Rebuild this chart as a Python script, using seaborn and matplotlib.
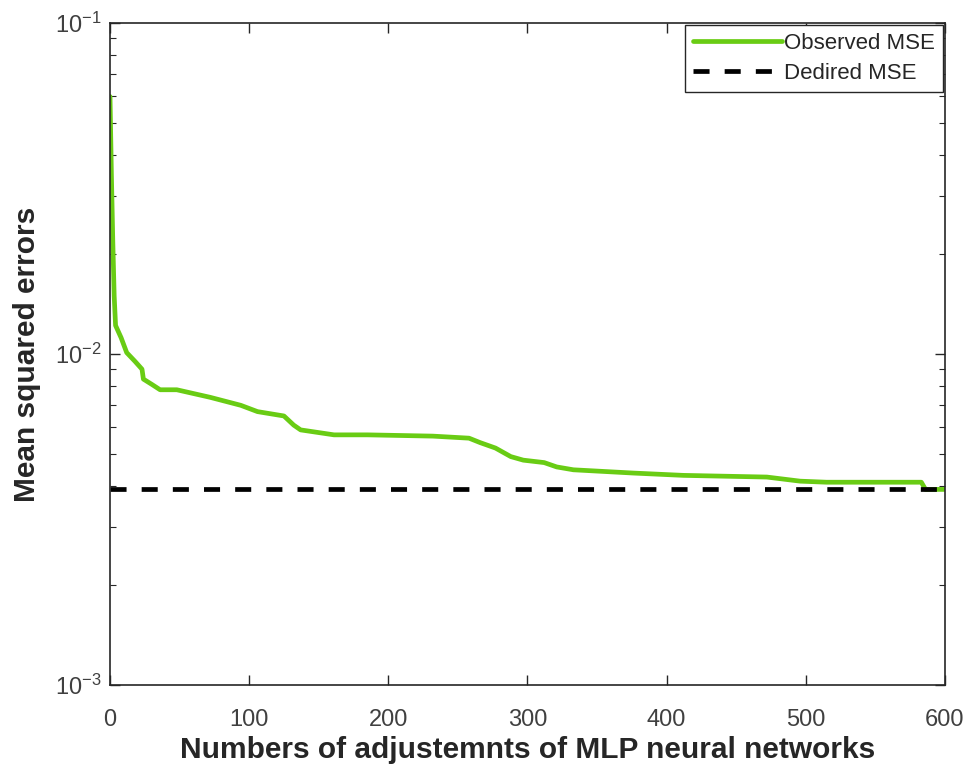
import matplotlib
matplotlib.use("Agg")
import matplotlib.pyplot as plt
import matplotlib.ticker as mticker
import seaborn as sns
import pandas as pd
import numpy as np

# Data
adjustments = [0, 1, 2, 3, 4, 8, 12, 18, 23, 24, 30, 36, 48, 72, 94, 106, 125,
               132, 137, 161, 185, 232, 258, 266, 277, 288, 297, 312, 321, 333,
               376, 412, 472, 496, 515, 583, 586, 600]
observed_mse = [0.060, 0.035, 0.022, 0.015, 0.0122, 0.0112, 0.0101, 0.0095, 0.0090,
                0.0084, 0.0081, 0.0078, 0.0078, 0.0074, 0.0070, 0.0067, 0.0065,
                0.0061, 0.0059, 0.0057, 0.0057, 0.00565, 0.00557, 0.0054, 0.0052,
                0.0049, 0.00478, 0.00470, 0.00456, 0.00447, 0.00437, 0.00430,
                0.00425, 0.00413, 0.00410, 0.00410, 0.0039, 0.0039]
desired_x = [0, 600]
desired_mse = [0.0039, 0.0039]
x_ticks = [0, 100, 200, 300, 400, 500, 600]

sns.set_style("white")
plt.rcParams['font.family'] = ['Liberation Sans', 'DejaVu Sans']

fig = plt.figure(figsize=(9.7, 7.68), dpi=100)
ax = fig.add_axes([0.1134, 0.108, 0.8608, 0.862])

obs = pd.DataFrame({"x": adjustments, "y": observed_mse})
des = pd.DataFrame({"x": desired_x, "y": desired_mse})
sns.lineplot(data=obs, x="x", y="y", ax=ax, color="#69CC14", linewidth=3.4,
             label="Observed MSE", estimator=None, sort=False)
sns.lineplot(data=des, x="x", y="y", ax=ax, color="black", linewidth=3.4,
             linestyle=(0, (3.4, 3.2)), label="Dedired MSE", estimator=None)

ax.set_yscale("log")
ax.set_xlim(0, 600)
ax.set_ylim(1e-3, 1e-1)
ax.set_xticks(x_ticks)
ax.yaxis.set_major_locator(mticker.LogLocator(base=10, numticks=5))
ax.yaxis.set_minor_locator(mticker.LogLocator(base=10, subs=np.arange(2, 10), numticks=20))
ax.yaxis.set_minor_formatter(mticker.NullFormatter())

ax.tick_params(axis="both", which="both", direction="in", top=True, right=True,
               left=True, bottom=True, colors="#262626", labelcolor="#404040")
ax.tick_params(axis="both", which="major", length=7, width=1, labelsize=17)
ax.tick_params(axis="y", which="minor", length=4, width=0.8)
ax.tick_params(axis="x", which="major", pad=17)
ax.tick_params(axis="y", which="major", pad=6)

for s in ax.spines.values():
    s.set_visible(True)
    s.set_color("#262626")
    s.set_linewidth(1.2)

ax.set_xlabel("Numbers of adjustemnts of MLP neural networks", fontsize=21.5,
              fontweight="bold", color="#262626", labelpad=4)
ax.set_ylabel("Mean squared errors", fontsize=21.5, fontweight="bold",
              color="#262626", labelpad=10)

leg = ax.legend(loc="upper right", fontsize=16, frameon=True, fancybox=False,
                edgecolor="#262626", framealpha=1, borderaxespad=0.1,
                handlelength=4.0, handletextpad=0.1, borderpad=0.35,
                labelspacing=0.4)
leg.get_frame().set_linewidth(1.0)
for t in leg.get_texts():
    t.set_color("#262626")

fig.savefig("out.png", dpi=100)
